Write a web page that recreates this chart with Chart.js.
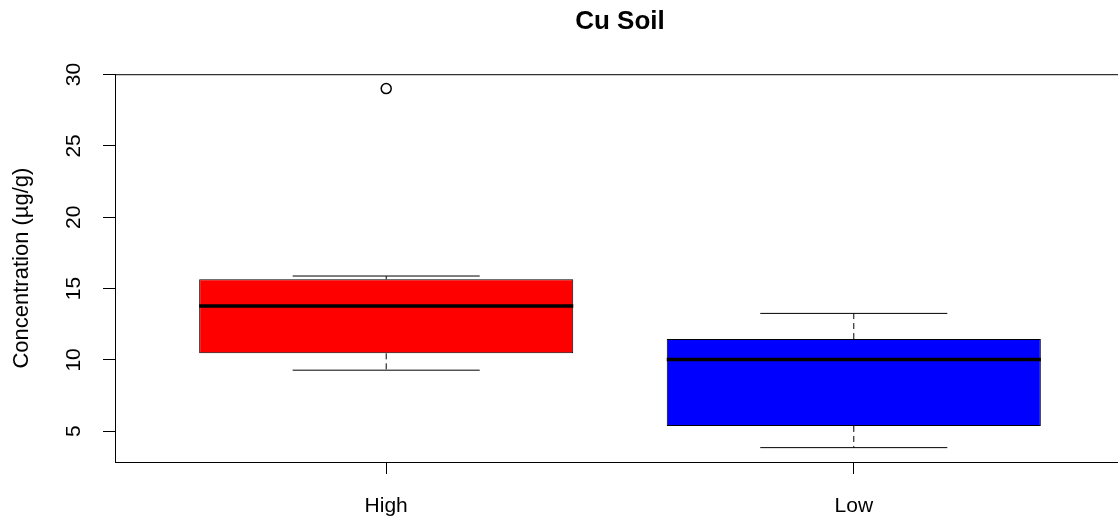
<!DOCTYPE html>
<html>
<head>
<meta charset="utf-8">
<script src="https://cdn.jsdelivr.net/npm/chart.js@4.4.1/dist/chart.umd.min.js"></script>
<style>
  html, body { margin: 0; padding: 0; overflow: hidden; background: #fff; }
</style>
</head>
<body>
<canvas id="boxChart" width="1240" height="520"></canvas>
<script>
'use strict';

// values
let categories = ['High', 'Low'];
let lowerWhisker = [9.28, 3.85];
let q1 = [10.46, 5.37];
let median = [13.78, 10.03];
let q3 = [15.65, 11.46];
let upperWhisker = [15.88, 13.26];
let outliers = [[29.02], []];
let boxColors = ['#FF0000', '#0000FF'];
let yTicks = [5, 10, 15, 20, 25, 30];

let boxWidth = 0.8;
let capWidth = 0.4;
let fontFamily = '"Liberation Sans", Arial, sans-serif';

// R style axis limits: data range plus 4% either side
let allValues = lowerWhisker.concat(upperWhisker);
for (let i = 0; i < outliers.length; i++) {
  allValues = allValues.concat(outliers[i]);
}
let dataMin = Math.min(...allValues);
let dataMax = Math.max(...allValues);
let yMin = dataMin - 0.04 * (dataMax - dataMin);
let yMax = dataMax + 0.04 * (dataMax - dataMin);
let xMin = 0.5 - 0.04 * categories.length;
let xMax = categories.length + 0.5 + 0.04 * categories.length;

let boxData = [];
let medianLines = [];
let whiskerLines = [];
let capLines = [];
let outlierPoints = [];

for (let i = 0; i < categories.length; i++) {
  let x = i + 1;
  boxData.push({x: x, y: [q1[i], q3[i]]});

  medianLines.push({x: x - boxWidth / 2, y: median[i]});
  medianLines.push({x: x + boxWidth / 2, y: median[i]});
  medianLines.push({x: x + 0.5, y: null});

  whiskerLines.push({x: x, y: q3[i]});
  whiskerLines.push({x: x, y: upperWhisker[i]});
  whiskerLines.push({x: x + 0.01, y: null});
  whiskerLines.push({x: x, y: q1[i]});
  whiskerLines.push({x: x, y: lowerWhisker[i]});
  whiskerLines.push({x: x + 0.01, y: null});

  capLines.push({x: x - capWidth / 2, y: upperWhisker[i]});
  capLines.push({x: x + capWidth / 2, y: upperWhisker[i]});
  capLines.push({x: x + 0.3, y: null});
  capLines.push({x: x - capWidth / 2, y: lowerWhisker[i]});
  capLines.push({x: x + capWidth / 2, y: lowerWhisker[i]});
  capLines.push({x: x + 0.3, y: null});

  for (let j = 0; j < outliers[i].length; j++) {
    outlierPoints.push({x: x, y: outliers[i][j]});
  }
}

// plot frame like R's box()
let framePlugin = {
  id: 'frame',
  afterDraw(chart) {
    let area = chart.chartArea;
    let ctx = chart.ctx;
    ctx.save();
    ctx.strokeStyle = '#000';
    ctx.lineWidth = 1;
    ctx.strokeRect(area.left + 0.5, area.top + 0.5, area.right - area.left, area.bottom - area.top);
    ctx.restore();
  }
};

const config = {
  type: 'bar',
  data: {
    datasets: [
      {
        type: 'scatter',
        data: outlierPoints,
        pointStyle: 'circle',
        pointRadius: 5,
        pointBackgroundColor: 'rgba(0,0,0,0)',
        pointBorderColor: '#000',
        pointBorderWidth: 1.5,
        order: 0
      },
      {
        type: 'line',
        data: medianLines,
        borderColor: '#000',
        borderWidth: 3.5,
        pointRadius: 0,
        spanGaps: false,
        order: 1
      },
      {
        type: 'bar',
        data: boxData,
        backgroundColor: boxColors,
        borderColor: '#000',
        borderWidth: 1,
        borderSkipped: false,
        categoryPercentage: 1,
        barPercentage: boxWidth,
        order: 2
      },
      {
        type: 'line',
        data: capLines,
        borderColor: '#000',
        borderWidth: 1,
        pointRadius: 0,
        spanGaps: false,
        order: 3
      },
      {
        type: 'line',
        data: whiskerLines,
        borderColor: '#000',
        borderWidth: 1,
        borderDash: [6, 4],
        pointRadius: 0,
        spanGaps: false,
        order: 4
      }
    ]
  },
  options: {
    responsive: false,
    animation: false,
    layout: {
      padding: 0
    },
    plugins: {
      legend: {display: false},
      tooltip: {enabled: false},
      title: {
        display: true,
        text: 'Cu Soil',
        color: '#000',
        font: {family: fontFamily, size: 26, weight: 'bold'},
        padding: {top: 6, bottom: 37}
      }
    },
    scales: {
      x: {
        type: 'linear',
        min: xMin,
        max: xMax,
        offset: false,
        afterBuildTicks(scale) {
          scale.ticks = categories.map((c, i) => ({value: i + 1}));
        },
        afterFit(scale) {
          scale.height = 58;
        },
        ticks: {
          color: '#000',
          font: {family: fontFamily, size: 21},
          padding: 20,
          autoSkip: false,
          maxRotation: 0,
          callback: (value) => categories[value - 1]
        },
        grid: {
          display: true,
          offset: false,
          drawOnChartArea: false,
          drawTicks: true,
          tickLength: 12,
          color: '#000'
        },
        border: {display: true, color: '#000', width: 1}
      },
      y: {
        type: 'linear',
        min: yMin,
        max: yMax,
        afterBuildTicks(scale) {
          scale.ticks = yTicks.map(v => ({value: v}));
        },
        afterFit(scale) {
          scale.width = 115;
        },
        ticks: {
          color: '#000',
          font: {family: fontFamily, size: 21},
          padding: 17,
          minRotation: 90,
          maxRotation: 90,
          crossAlign: 'center'
        },
        grid: {
          display: true,
          drawOnChartArea: false,
          drawTicks: true,
          tickLength: 12,
          color: '#000'
        },
        border: {display: true, color: '#000', width: 1},
        title: {
          display: true,
          text: 'Concentration (µg/g)',
          color: '#000',
          font: {family: fontFamily, size: 22},
          padding: {top: 9, bottom: 0}
        }
      },
      // empty right-hand axis: keeps the plot area symmetric, as in R
      yRight: {
        type: 'linear',
        position: 'right',
        min: yMin,
        max: yMax,
        afterFit(scale) {
          scale.width = 115;
        },
        ticks: {display: false},
        grid: {display: false},
        border: {display: false}
      }
    }
  },
  plugins: [framePlugin]
};

const boxChart = new Chart(document.getElementById('boxChart'), config);
</script>
</body>
</html>
